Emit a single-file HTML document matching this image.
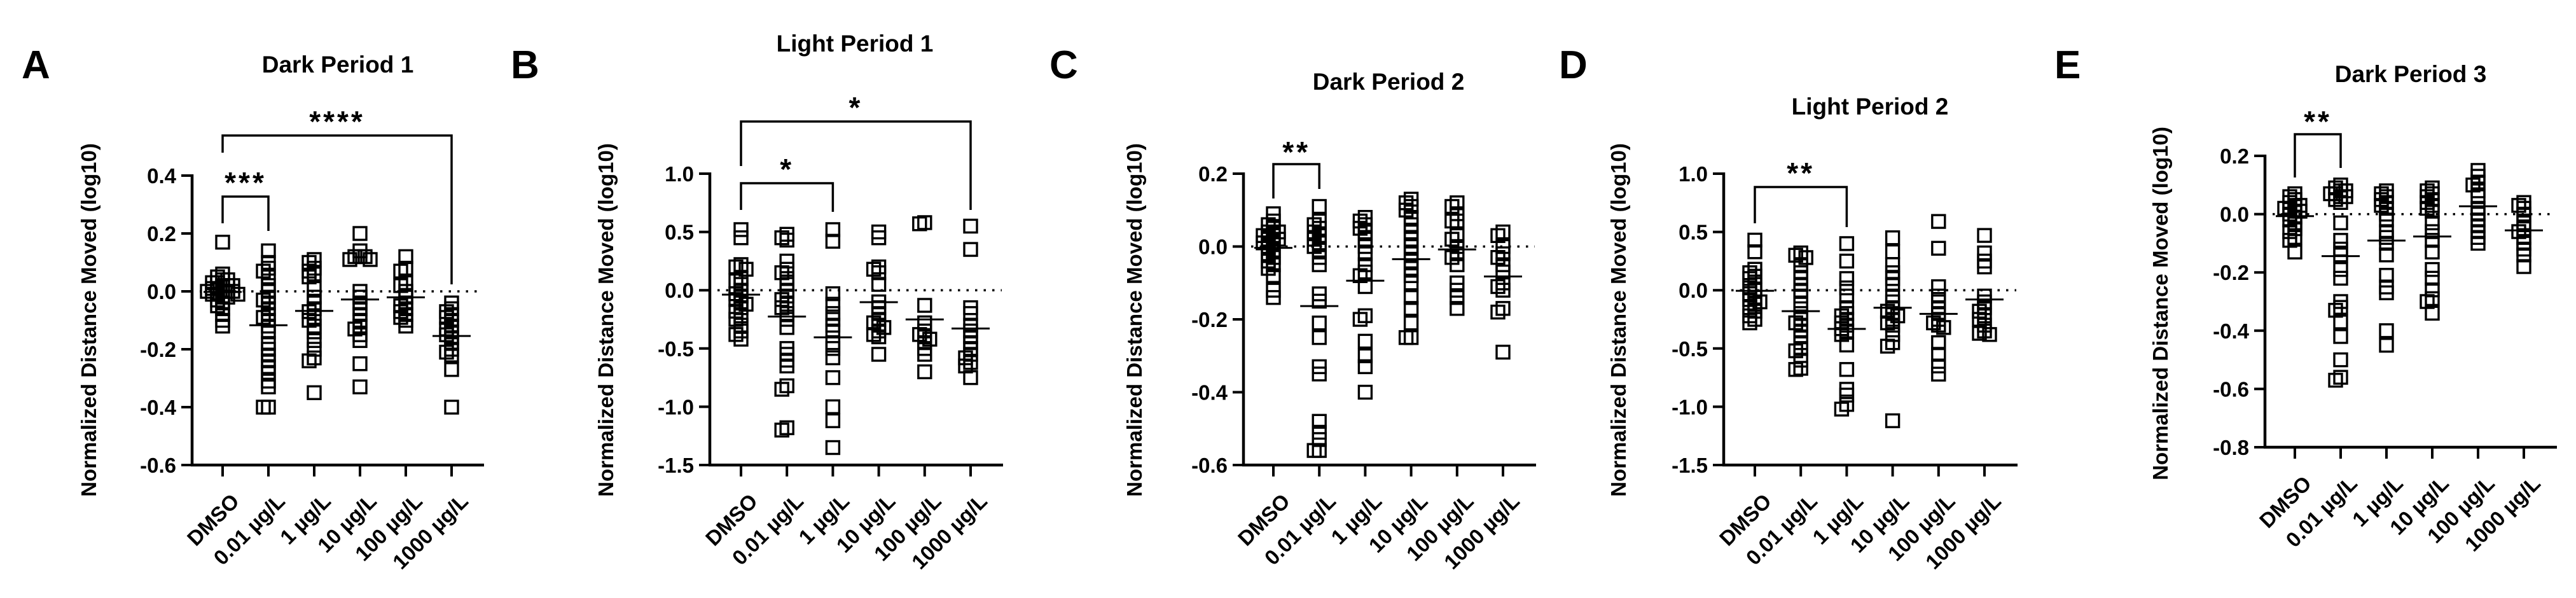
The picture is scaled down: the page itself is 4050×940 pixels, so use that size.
<!DOCTYPE html>
<html><head><meta charset="utf-8"><style>
html,body{margin:0;padding:0;background:#fff}
svg{display:block;font-family:"Liberation Sans",Arial,sans-serif;font-weight:bold}
</style></head><body>
<svg id="fig" width="4050" height="940" viewBox="0 0 4050 940" xmlns="http://www.w3.org/2000/svg"></svg>
<script>
const categories = ["DMSO","0.01 µg/L","1 µg/L","10 µg/L","100 µg/L","1000 µg/L"];
const titles = ["Dark Period 1","Light Period 1","Dark Period 2","Light Period 2","Dark Period 3"];
const panelLetters = ["A","B","C","D","E"];
const ticksA = [0.4,0.2,0.0,-0.2,-0.4,-0.6];
const ticksB = [1.0,0.5,0.0,-0.5,-1.0,-1.5];
const ticksC = [0.2,0.0,-0.2,-0.4,-0.6];
const ticksD = [1.0,0.5,0.0,-0.5,-1.0,-1.5];
const ticksE = [0.2,0.0,-0.2,-0.4,-0.6,-0.8];
const tickLabelsA = ["0.4","0.2","0.0","-0.2","-0.4","-0.6"];
const tickLabelsB = ["1.0","0.5","0.0","-0.5","-1.0","-1.5"];
const tickLabelsC = ["0.2","0.0","-0.2","-0.4","-0.6"];
const tickLabelsD = ["1.0","0.5","0.0","-0.5","-1.0","-1.5"];
const tickLabelsE = ["0.2","0.0","-0.2","-0.4","-0.6","-0.8"];

const dataA = [
 [0.17,0.06,0.05,0.04,0.04,0.03,0.03,0.02,0.02,0.01,0.01,0,0,0,-0.01,-0.01,-0.02,-0.02,-0.03,-0.04,-0.05,-0.06,-0.08,-0.10,-0.12,0.0,0.02,-0.01],
 [0.14,0.1,0.08,0.07,0.05,0.02,0.0,-0.02,-0.03,-0.04,-0.06,-0.08,-0.09,-0.1,-0.12,-0.14,-0.18,-0.2,-0.22,-0.24,-0.26,-0.28,-0.31,-0.33,-0.4,-0.4],
 [0.11,0.1,0.08,0.07,0.06,0.05,0.01,-0.02,-0.04,-0.06,-0.07,-0.09,-0.1,-0.12,-0.14,-0.17,-0.2,-0.23,-0.24,-0.35],
 [0.2,0.14,0.12,0.12,0.11,0.11,0.12,0.0,-0.02,-0.04,-0.06,-0.08,-0.1,-0.12,-0.13,-0.15,-0.17,-0.25,-0.33],
 [0.12,0.08,0.07,0.03,0.02,0.0,-0.02,-0.04,-0.05,-0.06,-0.07,-0.08,-0.09,-0.1,-0.12],
 [-0.04,-0.06,-0.07,-0.08,-0.09,-0.1,-0.12,-0.13,-0.14,-0.15,-0.16,-0.18,-0.2,-0.21,-0.22,-0.27,-0.4]
];
const dataB = [
 [0.52,0.45,0.22,0.2,0.18,0.1,0.08,0.05,0.0,-0.03,-0.05,-0.08,-0.1,-0.12,-0.15,-0.18,-0.22,-0.25,-0.3,-0.35,-0.38,-0.42],
 [0.48,0.45,0.43,0.25,0.18,0.15,0.1,0.05,0.0,-0.05,-0.08,-0.12,-0.15,-0.2,-0.25,-0.32,-0.5,-0.55,-0.6,-0.65,-0.82,-0.85,-1.18,-1.2],
 [0.52,0.42,-0.03,-0.12,-0.2,-0.25,-0.3,-0.35,-0.45,-0.5,-0.58,-0.75,-1.0,-1.12,-1.35],
 [0.5,0.45,0.2,0.18,0.15,0.05,-0.1,-0.15,-0.2,-0.25,-0.28,-0.3,-0.32,-0.35,-0.38,-0.4,-0.55],
 [0.58,0.57,-0.13,-0.28,-0.35,-0.38,-0.4,-0.42,-0.45,-0.5,-0.55,-0.7],
 [0.55,0.35,-0.15,-0.2,-0.3,-0.35,-0.4,-0.45,-0.5,-0.55,-0.58,-0.62,-0.65,-0.75]
];
const dataC = [
 [0.09,0.07,0.06,0.05,0.04,0.04,0.03,0.02,0.02,0.01,0,-0.01,-0.02,-0.03,-0.04,-0.05,-0.06,-0.08,-0.12,-0.14,0.03,0.01],
 [0.11,0.07,0.06,0.05,0.04,0.03,0.02,0.01,0,-0.01,-0.03,-0.05,-0.13,-0.15,-0.21,-0.25,-0.33,-0.35,-0.48,-0.51,-0.53,-0.56,-0.56],
 [0.08,0.07,0.06,0.05,0.04,0.02,0.0,-0.02,-0.05,-0.07,-0.08,-0.11,-0.19,-0.2,-0.26,-0.3,-0.33,-0.4],
 [0.13,0.12,0.11,0.1,0.08,0.06,0.04,0.02,0.0,-0.02,-0.04,-0.06,-0.08,-0.1,-0.14,-0.17,-0.21,-0.25,-0.25],
 [0.12,0.11,0.09,0.07,0.07,0.03,0.02,0.0,-0.02,-0.03,-0.05,-0.1,-0.12,-0.14,-0.17],
 [0.04,0.03,0.0,-0.02,-0.03,-0.05,-0.07,-0.1,-0.11,-0.12,-0.17,-0.18,-0.29]
];
const dataD = [
 [0.43,0.33,0.18,0.15,0.12,0.1,0.05,0.02,0.0,-0.03,-0.06,-0.08,-0.1,-0.12,-0.15,-0.18,-0.22,-0.25,-0.28],
 [0.32,0.3,0.28,0.22,0.15,0.1,0.05,0.0,-0.05,-0.12,-0.2,-0.25,-0.28,-0.3,-0.35,-0.4,-0.45,-0.5,-0.52,-0.6,-0.67,-0.68],
 [0.4,0.25,0.1,0.02,-0.05,-0.15,-0.2,-0.22,-0.25,-0.28,-0.3,-0.33,-0.35,-0.38,-0.47,-0.68,-0.85,-0.9,-0.98,-1.02],
 [0.45,0.33,0.22,0.15,0.1,0.05,-0.05,-0.1,-0.15,-0.18,-0.2,-0.22,-0.25,-0.28,-0.3,-0.38,-0.45,-0.48,-1.12],
 [0.59,0.36,0.03,-0.05,-0.1,-0.15,-0.2,-0.25,-0.28,-0.3,-0.32,-0.45,-0.55,-0.65,-0.72],
 [0.47,0.32,0.25,0.2,-0.05,-0.1,-0.15,-0.18,-0.22,-0.25,-0.3,-0.35,-0.37,-0.38]
];
const dataE = [
 [0.07,0.06,0.05,0.04,0.03,0.02,0.02,0.01,0.0,-0.01,-0.02,-0.03,-0.05,-0.06,-0.08,-0.09,-0.13,0.01,0.03],
 [0.1,0.09,0.08,0.08,0.07,0.07,0.06,0.06,0.05,0.04,-0.03,-0.09,-0.12,-0.14,-0.19,-0.22,-0.3,-0.32,-0.33,-0.37,-0.42,-0.5,-0.56,-0.57],
 [0.08,0.07,0.06,0.05,0.04,0.03,0.02,0.0,-0.02,-0.06,-0.08,-0.1,-0.14,-0.21,-0.25,-0.27,-0.4,-0.45],
 [0.09,0.08,0.07,0.06,0.05,0.04,0.03,0.02,0.01,-0.03,-0.06,-0.09,-0.13,-0.19,-0.22,-0.26,-0.29,-0.3,-0.34],
 [0.15,0.13,0.11,0.1,0.08,0.06,0.02,0.0,-0.02,-0.04,-0.06,-0.08,-0.1],
 [0.04,0.03,0.02,0.0,-0.03,-0.05,-0.06,-0.08,-0.1,-0.12,-0.14,-0.18]
];
const sigA = [{from:0,to:1,label:"***"},{from:0,to:5,label:"****"}];
const sigB = [{from:0,to:2,label:"*"},{from:0,to:5,label:"*"}];
const sigC = [{from:0,to:1,label:"**"}];
const sigD = [{from:0,to:2,label:"**"}];
const sigE = [{from:0,to:1,label:"**"}];

const NS = "http://www.w3.org/2000/svg";
const svg = document.getElementById("fig");
function mk(tag, attrs, parent, text){
  const e = document.createElementNS(NS, tag);
  for (const k in attrs) e.setAttribute(k, attrs[k]);
  if (text !== undefined) e.textContent = text;
  (parent || svg).appendChild(e);
  return e;
}
const panels = [
 {data:dataA, ticks:ticksA, tl:tickLabelsA, sig:sigA, ax:302, top:276, bot:731, right:761, c0:350, step:72, letter:[34,123], title:[531,114], yt:[151,503],
  brackets:[{y:309,l:351,r:363,sy:279},{y:213,l:240,r:447,sy:183}]},
 {data:dataB, ticks:ticksB, tl:tickLabelsB, sig:sigB, ax:1116, top:273, bot:731, right:1577, c0:1165, step:72.2, letter:[803,123], title:[1344,81], yt:[964,503],
  brackets:[{y:288,l:330,r:333,sy:258},{y:191,l:261,r:330,sy:161}]},
 {data:dataC, ticks:ticksC, tl:tickLabelsC, sig:sigC, ax:1955, top:273, bot:731, right:2415, c0:2002, step:72.2, letter:[1650,123], title:[2183,141], yt:[1795,503],
  brackets:[{y:258,l:312,r:297,sy:231}]},
 {data:dataD, ticks:ticksD, tl:tickLabelsD, sig:sigD, ax:2710, top:273, bot:731, right:3172, c0:2759, step:72.2, letter:[2451,123], title:[2940,180], yt:[2556,503],
  brackets:[{y:294,l:351,r:357,sy:264}]},
 {data:dataE, ticks:ticksE, tl:tickLabelsE, sig:sigE, ax:3561, top:245, bot:703, right:4020, c0:3608, step:72, letter:[3230,123], title:[3790,129], yt:[3408,477],
  brackets:[{y:211,l:279,r:264,sy:183}]}
];

panels.forEach((p, pi) => {
  const g = mk("g", {});
  
  
  const t0 = p.ticks[0], t1 = p.ticks[p.ticks.length-1];
  const yS = v => p.top + (t0 - v) / (t0 - t1) * (p.bot - p.top);
  const xS = i => p.c0 + i * p.step;

  const L = mk("text", {x:p.letter[0], y:p.letter[1], "font-size":62}, g, panelLetters[pi]);
  
  
  const T = mk("text", {x:p.title[0], y:p.title[1], "font-size":37, "text-anchor":"middle"}, g, titles[pi]);
  
  
  const YT = mk("text", {transform:`translate(${p.yt[0]},${p.yt[1]}) rotate(-90)`, "font-size":33, "text-anchor":"middle"}, g, "Normalized Distance Moved (log10)");
  
  

  const Z = mk("line", {x1:p.ax+12, x2:p.right-2, y1:yS(0), y2:yS(0), stroke:"#000", "stroke-width":3.5, "stroke-dasharray":"3.5 10"}, g);
  
  

  const YA = mk("line", {x1:p.ax, x2:p.ax, y1:p.top-2, y2:p.bot+2, stroke:"#000", "stroke-width":4.5}, g);
  
  
  const XA = mk("line", {x1:p.ax-2, x2:p.right, y1:p.bot, y2:p.bot, stroke:"#000", "stroke-width":4.5}, g);
  
  
  p.ticks.forEach((v, i) => {
    const y = yS(v);
    const tk = mk("line", {x1:p.ax-17, x2:p.ax, y1:y, y2:y, stroke:"#000", "stroke-width":4}, g);
    
    
    const lb = mk("text", {x:p.ax-25, y:y+12, "font-size":33, "text-anchor":"end"}, g, p.tl[i]);
    
    
  });
  categories.forEach((c, i) => {
    const x = xS(i);
    const tk = mk("line", {x1:x, x2:x, y1:p.bot, y2:p.bot+18, stroke:"#000", "stroke-width":4}, g);
    
    
    const lb = mk("text", {transform:`translate(${x+28},${p.bot+59}) rotate(-45)`, "font-size":33, "text-anchor":"end"}, g, c);
    
    
  });

  const offs = [0,-8,8,-16,16,-24,24];
  p.data.forEach((vals, ci) => {
    const cx = xS(ci);
    const placed = [];
    const order = vals.map((v, k) => k).sort((a, b) => vals[b] - vals[a]);
    order.forEach(k => {
      const y = yS(vals[k]);
      let chosen = offs[offs.length-1];
      for (const o of offs) {
        if (!placed.some(q => Math.abs(q.o - o) < 7 && Math.abs(q.y - y) < 9)) { chosen = o; break; }
      }
      placed.push({o:chosen, y:y});
      const r = mk("rect", {x:cx + chosen - 10, y:y - 10, width:20, height:20, fill:"none", stroke:"#000", "stroke-width":3.4}, g);
      
      
    });
    const mean = vals.reduce((a, b) => a + b, 0) / vals.length;
    const ml = mk("line", {x1:cx-30, x2:cx+30, y1:yS(mean), y2:yS(mean), stroke:"#000", "stroke-width":3}, g);
    
    
  });

  p.sig.forEach((s, si) => {
    const b = p.brackets[si];
    const x1 = xS(s.from), x2 = xS(s.to);
    const br = mk("path", {d:`M${x1},${b.l} V${b.y} H${x2} V${b.r}`, fill:"none", stroke:"#000", "stroke-width":3.5}, g);
    
    
    const st = mk("text", {x:(x1+x2)/2, y:b.sy+24, "font-size":46, "text-anchor":"middle", "letter-spacing":4}, g, s.label);
    
    
  });
});
</script>
</body></html>
